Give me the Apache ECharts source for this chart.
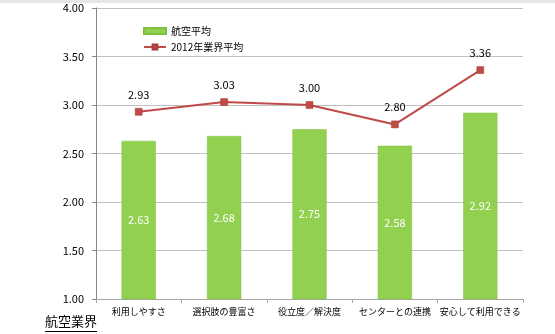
<!DOCTYPE html>
<html>
<head>
<meta charset="utf-8">
<script src="https://cdn.jsdelivr.net/npm/echarts@6/dist/echarts.min.js"></script>
<style>
html,body{margin:0;padding:0;background:#fff;}
#chart{width:555px;height:334px;}
</style>
</head>
<body>
<div id="chart"></div>
<script>
// Categories and scores
const categories = ['利用しやすさ', '選択肢の豊富さ', '役立度／解決度', 'センターとの連携', '安心して利用できる'];
const airlineAvg = [2.63, 2.68, 2.75, 2.58, 2.92];
const industryAvg2012 = [2.93, 3.03, 3.00, 2.80, 3.36];
const seriesNames = ['航空平均', '2012年業界平均'];
const sectionTitle = '航空業界';

const font = '"Noto Sans CJK JP", "Noto Sans", sans-serif';

const chart = echarts.init(document.getElementById('chart'), null, { renderer: 'canvas' });

chart.setOption({
  animation: false,
  backgroundColor: '#ffffff',
  grid: { left: 96, right: 32, top: 8, bottom: 35, containLabel: false },
  legend: {
    orient: 'vertical',
    left: 138,
    top: 21,
    itemGap: 6,
    itemWidth: 22,
    itemHeight: 6,
    textStyle: { fontSize: 10, color: '#000', fontFamily: font },
    data: [
      { name: seriesNames[0], icon: 'rect' },
      { name: seriesNames[1] }
    ]
  },
  xAxis: {
    type: 'category',
    data: categories,
    axisLine: { lineStyle: { color: '#a6a6a6', width: 1 } },
    axisTick: { show: true, length: 4, lineStyle: { color: '#a6a6a6' } },
    axisLabel: { interval: 0, fontSize: 9, color: '#000', margin: 8, fontFamily: font }
  },
  yAxis: {
    type: 'value',
    min: 1,
    max: 4,
    interval: 0.5,
    axisLine: { show: true, lineStyle: { color: '#868686' } },
    axisTick: { show: true, length: 4, lineStyle: { color: '#868686' } },
    axisLabel: {
      fontSize: 11, color: '#000', margin: 12, fontFamily: font,
      formatter: v => v.toFixed(2)
    },
    splitLine: { lineStyle: { color: '#c0c0c0', width: 1 } }
  },
  series: [
    {
      name: seriesNames[0],
      type: 'bar',
      data: airlineAvg,
      barWidth: '40%',
      itemStyle: { color: '#92d050', borderColor: '#7fc040', borderWidth: 0.5 },
      label: {
        show: true, position: 'inside', color: '#fff', fontSize: 11, fontFamily: font,
        formatter: p => p.value.toFixed(2)
      },
      z: 2
    },
    {
      name: seriesNames[1],
      type: 'line',
      data: industryAvg2012,
      symbol: 'rect',
      symbolSize: 7,
      lineStyle: { color: '#be4b48', width: 2 },
      itemStyle: { color: '#be4b48', borderColor: '#a83c39', borderWidth: 0.5 },
      label: {
        show: true, position: 'top', distance: 8, color: '#000', fontSize: 11, fontFamily: font,
        formatter: p => p.value.toFixed(2)
      },
      z: 3
    }
  ],
  graphic: [
    { type: 'rect', left: 0, top: 0, shape: { width: 555, height: 3 }, style: { fill: '#e6e6e6' }, silent: true },
    {
      type: 'text', left: 45, top: 315,
      style: { text: sectionTitle, fontSize: 13, fill: '#000', fontFamily: font }
    },
    {
      type: 'line', shape: { x1: 45, y1: 331.5, x2: 97, y2: 331.5 },
      style: { stroke: '#000', lineWidth: 1 }
    }
  ]
});
</script>
</body>
</html>
